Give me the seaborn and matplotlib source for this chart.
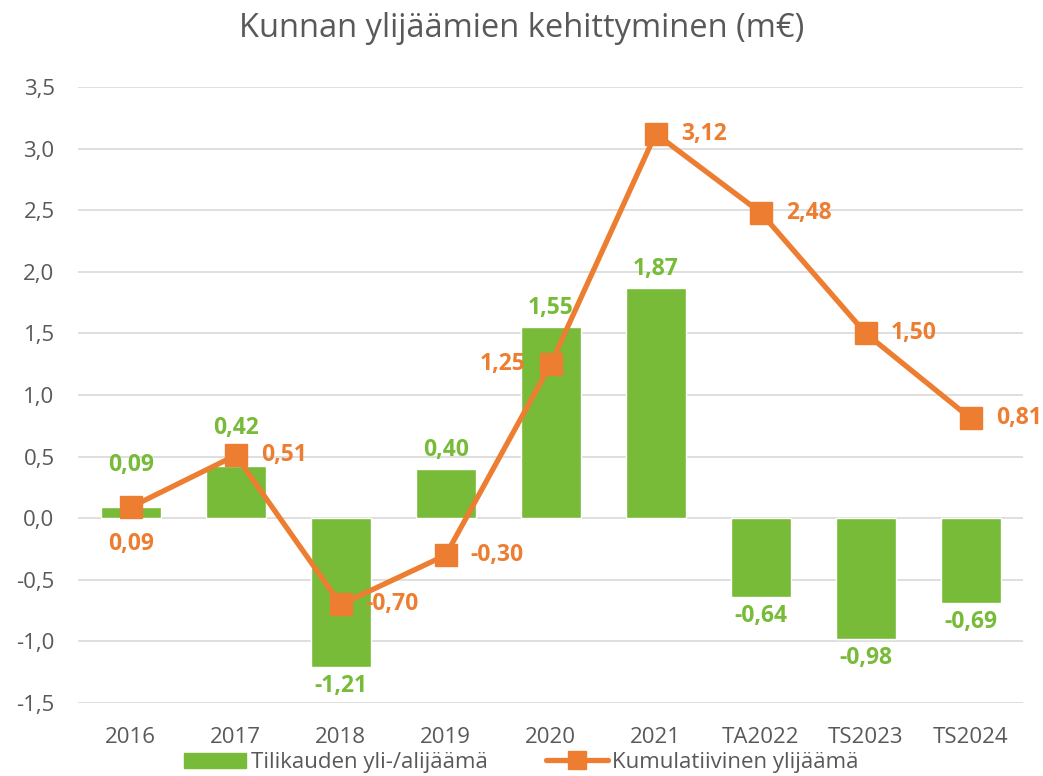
import matplotlib
matplotlib.use("Agg")
import matplotlib.pyplot as plt
import seaborn as sns
import numpy as np
import pandas as pd
from matplotlib.lines import Line2D
from matplotlib.patches import Patch

# Data
categories = ['2016', '2017', '2018', '2019', '2020', '2021', 'TA2022', 'TS2023', 'TS2024']
annual = [0.09, 0.42, -1.21, 0.40, 1.55, 1.87, -0.64, -0.98, -0.69]
cumulative = [0.09, 0.51, -0.70, -0.30, 1.25, 3.12, 2.48, 1.50, 0.81]

GREEN = '#77BB38'
ORANGE = '#ED7D31'
GRAY = '#595959'

sns.set_theme(style='white')
plt.rcParams['font.family'] = ['Open Sans', 'DejaVu Sans']

df = pd.DataFrame({'cat': categories, 'annual': annual, 'cum': cumulative})

fig = plt.figure(figsize=(10.43, 7.76), dpi=100)
ax = fig.add_axes([0.075, 0.094, 0.906, 0.794])

sns.barplot(data=df, x='cat', y='annual', color=GREEN, width=0.57,
            saturation=1, ax=ax, zorder=2)
xs = np.arange(len(categories))
ax.plot(xs, df['cum'], color=ORANGE, lw=3.8, marker='s', markersize=16,
        zorder=4)

ax.set_xlim(-0.5, len(categories) - 0.5)
ax.set_ylim(-1.5, 3.5)
ax.set_yticks(np.arange(-1.5, 3.51, 0.5))
ax.set_yticklabels([f'{v:.1f}'.replace('.', ',') for v in np.arange(-1.5, 3.51, 0.5)])
ax.grid(axis='y', color='#D9D9D9', lw=1.2, zorder=0)
ax.set_axisbelow(True)
for s in ax.spines.values():
    s.set_visible(False)
ax.tick_params(axis='both', colors=GRAY, labelsize=16, length=0)
ax.tick_params(axis='y', pad=17)
ax.tick_params(axis='x', pad=17)
ax.set_xlabel('')
ax.set_ylabel('')

fmt = lambda v: f'{v:.2f}'.replace('.', ',')

# bar labels (first two are lifted clear of the line markers)
lift = [17, 14, 0, 0, 0, 0, 0, 0, 0]
for x, v, extra in zip(xs, annual, lift):
    if v >= 0:
        ax.annotate(fmt(v), (x, v), xytext=(0, 5 + extra), textcoords='offset points',
                    ha='center', va='bottom', color=GREEN, fontsize=16.5,
                    fontweight='bold', zorder=3)
    else:
        ax.annotate(fmt(v), (x, v), xytext=(0, -5), textcoords='offset points',
                    ha='center', va='top', color=GREEN, fontsize=16.5,
                    fontweight='bold', zorder=3)

# line labels
for i, (x, v) in enumerate(zip(xs, cumulative)):
    if i == 0:
        off, ha, va = (0, -18), 'center', 'top'
    elif i == 4:
        off, ha, va = (-18, 0), 'right', 'center'
    else:
        off, ha, va = (18, 0), 'left', 'center'
    ax.annotate(fmt(v), (x, v), xytext=off, textcoords='offset points',
                ha=ha, va=va, color=ORANGE, fontsize=16.5, fontweight='bold',
                zorder=5)

fig.suptitle('Kunnan ylijäämien kehittyminen (m€)', y=0.985, fontsize=23.5,
             color=GRAY)

handles = [Patch(color=GREEN, label='Tilikauden yli-/alijäämä'),
           Line2D([0], [0], color=ORANGE, lw=3.8, marker='s', markersize=13,
                  label='Kumulatiivinen ylijäämä')]
fig.legend(handles=handles, loc='lower center', ncol=2, frameon=False,
           bbox_to_anchor=(0.5, -0.022), fontsize=16, handlelength=2.8,
           handleheight=0.7, columnspacing=2.6, handletextpad=0.2,
           labelcolor=GRAY)

fig.savefig('out.png', dpi=100)
